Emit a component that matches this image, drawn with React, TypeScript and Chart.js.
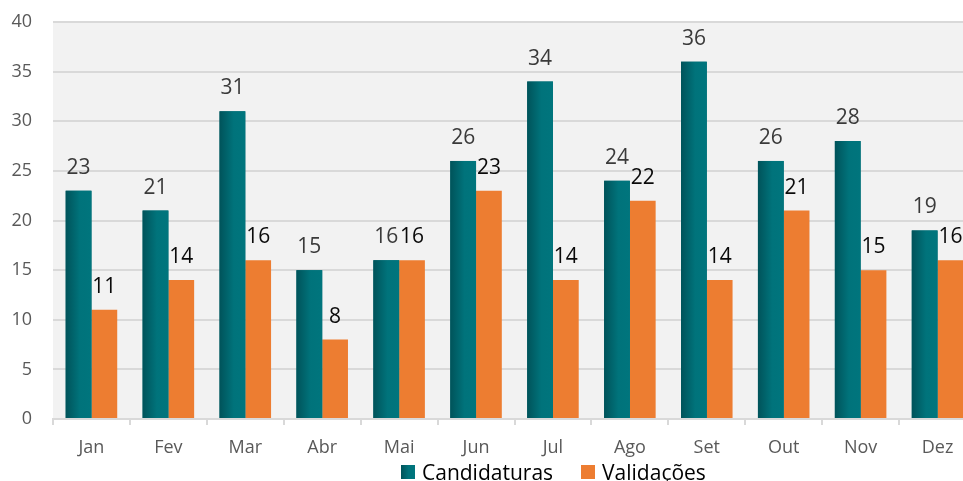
import React, { useEffect, useRef } from "react";
import { Chart, registerables } from "chart.js";

Chart.register(...registerables);

const months = ["Jan", "Fev", "Mar", "Abr", "Mai", "Jun", "Jul", "Ago", "Set", "Out", "Nov", "Dez"];
const candidaturas = [23, 21, 31, 15, 16, 26, 34, 24, 36, 26, 28, 19];
const validacoes = [11, 14, 16, 8, 16, 23, 14, 22, 14, 21, 15, 16];
const yTicks = [0, 5, 10, 15, 20, 25, 30, 35, 40];

const TEAL = "#00666E";
const ORANGE = "#ED7D31";
const FONT = "'Open Sans', 'Noto Sans', sans-serif";

const bgPlugin = {
  id: "plotBg",
  beforeDraw(chart: any) {
    const { ctx, chartArea } = chart;
    ctx.save();
    ctx.fillStyle = "#F2F2F2";
    ctx.fillRect(chartArea.left, chartArea.top, chartArea.right - chartArea.left, chartArea.bottom - chartArea.top);
    ctx.restore();
  },
};

const gradientPlugin = {
  id: "tealGradient",
  afterDatasetDraw(chart: any, args: any) {
    if (args.index !== 0) return;
    const ctx = chart.ctx;
    const meta = args.meta;
    ctx.save();
    meta.data.forEach((bar: any) => {
      const left = bar.x - bar.width / 2;
      const g = ctx.createLinearGradient(left, 0, left + bar.width, 0);
      g.addColorStop(0, "#00535A");
      g.addColorStop(0.55, "#00737B");
      g.addColorStop(1, "#00757D");
      ctx.fillStyle = g;
      ctx.fillRect(left, bar.y, bar.width, bar.base - bar.y);
    });
    ctx.restore();
  },
};

const labelPlugin = {
  id: "valueLabels",
  afterDatasetsDraw(chart: any) {
    const ctx = chart.ctx;
    ctx.save();
    ctx.font = `500 21px ${FONT}`;
    ctx.textAlign = "center";
    ctx.textBaseline = "alphabetic";
    chart.data.datasets.forEach((ds: any, di: number) => {
      const meta = chart.getDatasetMeta(di);
      ctx.fillStyle = di === 0 ? "#3A3A3A" : "#0A0A0A";
      meta.data.forEach((bar: any, i: number) => {
        ctx.fillText(String(ds.data[i]), bar.x, bar.y - 17);
      });
    });
    ctx.restore();
  },
};

export default function App() {
  const ref = useRef<HTMLCanvasElement>(null);

  useEffect(() => {
    if (!ref.current) return;
    const chart = new Chart(ref.current, {
      type: "bar",
      data: {
        labels: months,
        datasets: [
          { label: "Candidaturas", data: candidaturas, backgroundColor: TEAL, categoryPercentage: 0.67, barPercentage: 1.0 },
          { label: "Validações", data: validacoes, backgroundColor: ORANGE, categoryPercentage: 0.67, barPercentage: 1.0 },
        ],
      },
      options: {
        animation: false,
        responsive: false,
        layout: { padding: { top: 22, left: 0, right: 0, bottom: 0 } },
        plugins: {
          legend: { display: false },
          tooltip: { enabled: false },
        },
        scales: {
          x: {
            offset: true,
            grid: {
              offset: true,
              drawOnChartArea: false,
              drawTicks: true,
              tickLength: 6,
              color: "#D9D9D9",
              lineWidth: 2,
            },
            border: { color: "#D9D9D9", width: 2 },
            ticks: { color: "#595959", font: { family: FONT, size: 18 }, padding: 12 },
            afterFit: (s: any) => { s.height = 62; s.paddingLeft = 0; s.paddingRight = 0; },
          },
          y: {
            min: 0,
            max: 40,
            afterBuildTicks: (s: any) => { s.ticks = yTicks.map((v) => ({ value: v })); },
            grid: { color: "#D9D9D9", lineWidth: 2, drawTicks: false },
            border: { display: false },
            ticks: { color: "#595959", font: { family: FONT, size: 18 }, padding: 21 },
            afterFit: (s: any) => { s.width = 53; s.paddingTop = 0; s.paddingBottom = 0; },
          },
        },
      },
      plugins: [bgPlugin, gradientPlugin, labelPlugin],
    });
    return () => chart.destroy();
  }, []);

  const legendItem = (color: string, text: string, gradient?: boolean) => (
    <div style={{ display: "flex", alignItems: "center", marginRight: 28 }}>
      <div
        style={{
          width: 14,
          height: 14,
          background: gradient ? "linear-gradient(to right, #00535A, #00737B 55%, #00757D)" : color,
          marginRight: 7,
        }}
      />
      <span style={{ fontFamily: FONT, fontSize: 21, color: "#000" }}>{text}</span>
    </div>
  );

  return (
    <div style={{ position: "absolute", left: 0, top: 0, width: 963, height: 481, overflow: "hidden", background: "#fff" }}>
      <canvas ref={ref} width={976} height={481} style={{ display: "block", width: 976, height: 481 }} />
      <div
        style={{
          position: "absolute",
          left: 401,
          top: 458,
          display: "flex",
          alignItems: "center",
          lineHeight: "28px",
        }}
      >
        {legendItem(TEAL, "Candidaturas", true)}
        {legendItem(ORANGE, "Validações")}
      </div>
    </div>
  );
}
